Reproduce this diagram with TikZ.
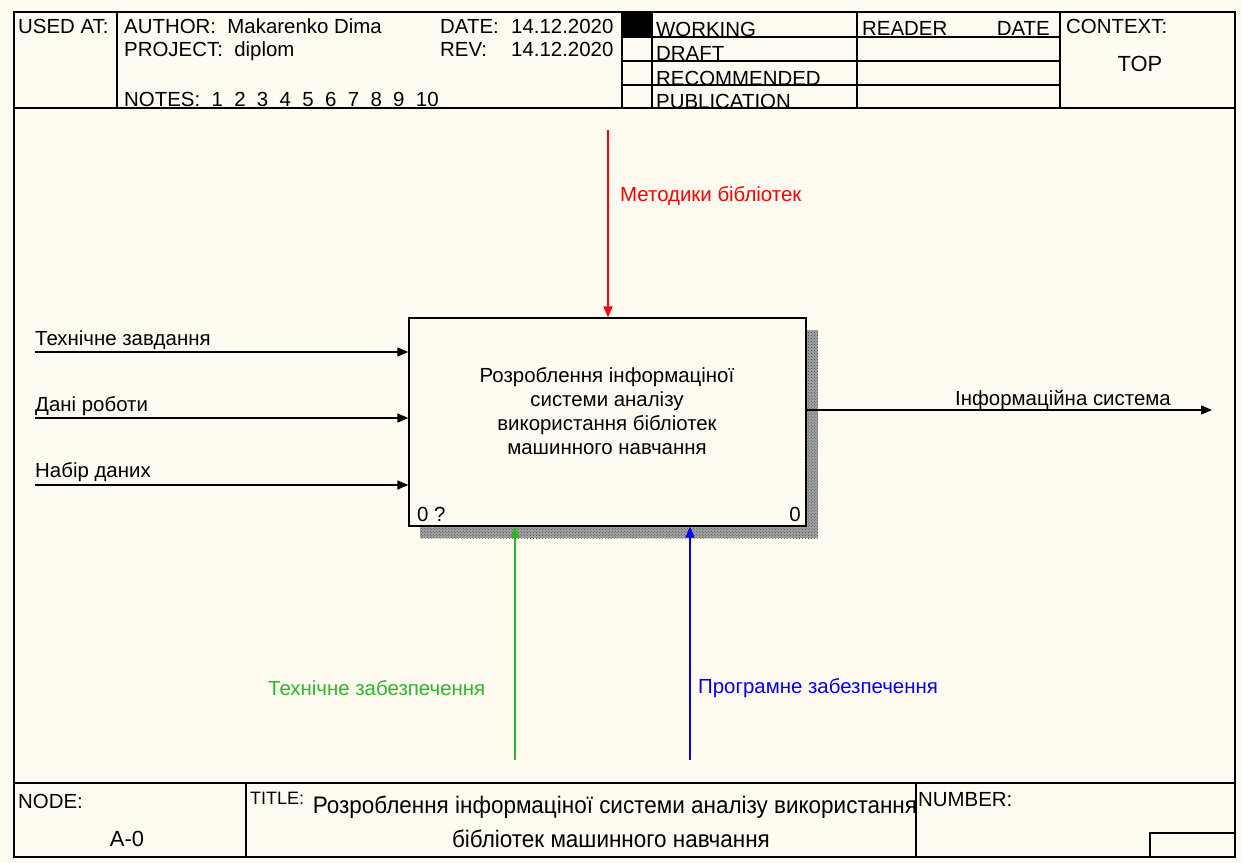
\documentclass[tikz,border=0pt]{standalone}
\usepackage{fontspec}
\setmainfont{Liberation Sans}
\newfontfamily\narrowfont[FakeStretch=0.94]{Liberation Sans}
\usetikzlibrary{arrows.meta,patterns,positioning}
\definecolor{paper}{RGB}{255,251,240}
\definecolor{ctlred}{RGB}{255,0,0}
\definecolor{mechgreen}{RGB}{40,185,40}
\definecolor{mechblue}{RGB}{0,0,255}

\begin{document}
\begin{tikzpicture}[x=1bp, y=-1bp,
    frame/.style = {draw, line width=1.3bp},
    txt/.style = {anchor=base west, inner sep=0pt, font=\fontsize{20.5}{22}\selectfont},
    lbl/.style = {anchor=base west, inner sep=0pt, font=\fontsize{20.5}{24}\selectfont},
    flow/.style = {-{Triangle[length=11bp,width=9bp]}, line width=1.3bp},
    shadow/.style = {fill=black!35, postaction={pattern=crosshatch dots, pattern color=black!80}},
    func/.style = {draw, fill=paper, minimum width=397bp, minimum height=208bp, inner sep=0pt, line width=1.3bp}]

        \fill[paper] (0,0) rectangle (1242,863);
        \useasboundingbox (0,0) rectangle (1242,863);

        % header and footer frame
        \draw[frame] (14,12) rectangle (1235,857);
        \draw[frame] (14,108) -- (1235,108);
        \foreach \x in {117,622,652,857,1060}
            \draw[frame] (\x,12) -- (\x,108);
        \foreach \y in {37,61,85}
            \draw[frame] (622,\y) -- (1060,\y);
        \fill (622,12) rectangle (652,37);
        \draw[frame] (14,783) -- (1235,783);
        \draw[frame] (246,783) -- (246,857);
        \draw[frame] (916,783) -- (916,857);
        \draw[frame] (1150,833) rectangle (1235,857);

        \node[txt] (usedat) at (18,33) {USED AT:};
        \node[txt] (author) at (124,33) {AUTHOR:\ \ Makarenko Dima};
        \node[txt] (project) at (124,56) {PROJECT:\ \ diplom};
        \node[txt] (notes) at (124,106) {NOTES:\ \ 1\ \ 2\ \ 3\ \ 4\ \ 5\ \ 6\ \ 7\ \ 8\ \ 9\ \ 10};
        \node[txt] (date) at (440,33) {DATE:};
        \node[txt] (dateval) at (511,33) {14.12.2020};
        \node[txt] (rev) at (440,56) {REV:};
        \node[txt] (revval) at (511,56) {14.12.2020};
        \node[txt] (working) at (656,36) {WORKING};
        \node[txt] (draft) at (656,60) {DRAFT};
        \node[txt] (recom) at (656,85) {RECOMMENDED};
        \node[txt] (publ) at (656,108) {PUBLICATION};
        \node[txt] (reader) at (862,35) {READER};
        \node[txt, anchor=base east] (rdate) at (1050,35) {DATE};
        \node[txt] (context) at (1066,33) {CONTEXT:};
        \node[txt, anchor=base, font=\fontsize{22}{24}\selectfont] (top) at (1140,71) {TOP};

        \node[txt] (node) at (18,808) {NODE:};
        \node[txt, anchor=base, font=\fontsize{22}{24}\selectfont] (nodeval) at (127,846) {A-0};
        \node[txt, font=\fontsize{18}{18}\selectfont] (title) at (250,804) {TITLE:};
        \node[anchor=base, inner sep=0pt, font=\narrowfont\fontsize{24}{26}\selectfont] (titleval1) at (615,813) {Розроблення інформаціної системи аналізу використання};
        \node[anchor=base, inner sep=0pt, font=\narrowfont\fontsize{24}{26}\selectfont] (titleval2) at (611,847) {бібліотек машинного навчання};
        \node[txt] (number) at (918,806) {NUMBER:};

        % function box
        \path[shadow] (806,330) rectangle (818,538);
        \path[shadow] (420,526) rectangle (806,538);
        \node[func] (A0) at (607.5,422) {};
        \node[align=center, inner sep=0pt, font=\fontsize{20.5}{24}\selectfont] (A0text) at (607,411)
            {Розроблення інформаціної\\системи аналізу\\використання бібліотек\\машинного навчання};
        \node[lbl, anchor=base west] (A0num) at (417,521) {0 ?};
        \node[lbl, anchor=base east] (A0cost) at (801,521) {0};

        % arrows
        \coordinate (ctl) at (608,130);
        \coordinate (in1) at (35,352);
        \coordinate (in2) at (35,418);
        \coordinate (in3) at (35,485);
        \coordinate (out) at (1212,410);
        \coordinate (mech1) at (515,760);
        \coordinate (mech2) at (690,760);

        \draw[flow, ctlred] (ctl) -- (ctl |- A0.north);
        \draw[flow] (in1) -- (in1 -| A0.west);
        \draw[flow] (in2) -- (in2 -| A0.west);
        \draw[flow] (in3) -- (in3 -| A0.west);
        \draw[flow] (out -| A0.east) -- (out);
        \draw[flow, mechgreen] (mech1) -- (mech1 |- A0.south);
        \draw[flow, mechblue] (mech2) -- (mech2 |- A0.south);

        \node[lbl, text=ctlred] (ctllbl) at (620,201) {Методики бібліотек};
        \node[lbl] (in1lbl) at (35,345) {Технічне завдання};
        \node[lbl] (in2lbl) at (35,411) {Дані роботи};
        \node[lbl] (in3lbl) at (35,477) {Набір даних};
        \node[lbl] (outlbl) at (955,405) {Інформаційна система};
        \node[lbl, text=mechgreen] (mech1lbl) at (268,695) {Технічне забезпечення};
        \node[lbl, text=mechblue] (mech2lbl) at (698,693) {Програмне забезпечення};

\end{tikzpicture}
\end{document}
